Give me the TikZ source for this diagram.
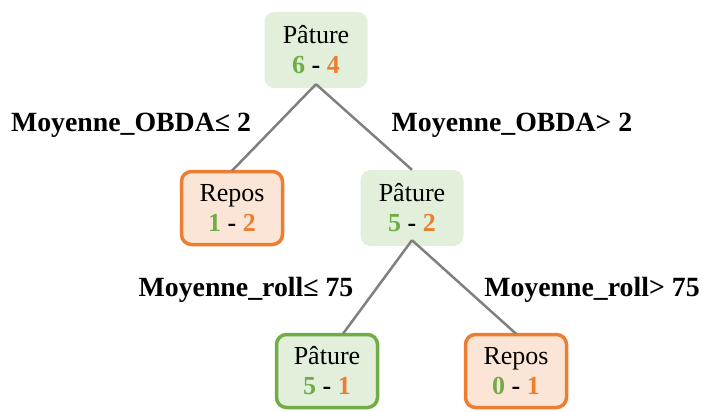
\documentclass[tikz,border=0pt]{standalone}
\usepackage{fontspec}
\setmainfont{Liberation Serif}
\definecolor{gtxt}{HTML}{70AD47}
\definecolor{otxt}{HTML}{ED7D31}
\definecolor{gfill}{HTML}{E2EFDA}
\definecolor{ofill}{HTML}{FBE5D6}
\definecolor{edgegray}{HTML}{808080}
\tikzset{
  box/.style={rectangle, rounded corners=10pt, minimum width=101pt, minimum height=73pt,
    align=center, inner sep=0pt, font=\fontsize{26}{30}\selectfont},
  gbox/.style={box, fill=gfill},
  gboxb/.style={box, fill=gfill, draw=gtxt, line width=3.5pt},
  oboxb/.style={box, fill=ofill, draw=otxt, line width=3.5pt},
  branch/.style={draw=edgegray, line width=2.5pt},
  cond/.style={font=\fontsize{27.8}{30}\selectfont\bfseries, inner sep=0pt},
}
\newcommand{\cnt}[2]{\textbf{\textcolor{gtxt}{#1} - \textcolor{otxt}{#2}}}
\begin{document}
\begin{tikzpicture}[x=1pt,y=-1pt]
\useasboundingbox (0,0) rectangle (702,412);
\node[gbox, minimum width=103pt, minimum height=76pt] (root) at (316,50) {Pâture\\\cnt{6}{4}};
\node[oboxb] (repA) at (232,208) {Repos\\\cnt{1}{2}};
\node[gbox, minimum width=103pt, minimum height=76pt] (patB) at (412,208) {Pâture\\\cnt{5}{2}};
\node[gboxb] (patC) at (327,371) {Pâture\\\cnt{5}{1}};
\node[oboxb] (repD) at (516,371) {Repos\\\cnt{0}{1}};
\coordinate (rootfork) at ([yshift=4pt]root.south);
\coordinate (patBfork) at ([yshift=6pt]patB.south);
\draw[branch] (rootfork) -- ([yshift=-1pt]repA.north);
\draw[branch] (rootfork) -- (patB.north);
\draw[branch] (patBfork) -- ([xshift=16pt,yshift=-1pt]patC.north);
\draw[branch] (patBfork) -- ([yshift=-1pt]repD.north);
\node[cond] (c1) at (131,125) {Moyenne\_OBDA≤ 2};
\node[cond] (c2) at (512,125) {Moyenne\_OBDA> 2};
\node[cond] (c3) at (246,290) {Moyenne\_roll≤ 75};
\node[cond] (c4) at (592,290) {Moyenne\_roll> 75};
\end{tikzpicture}
\end{document}
